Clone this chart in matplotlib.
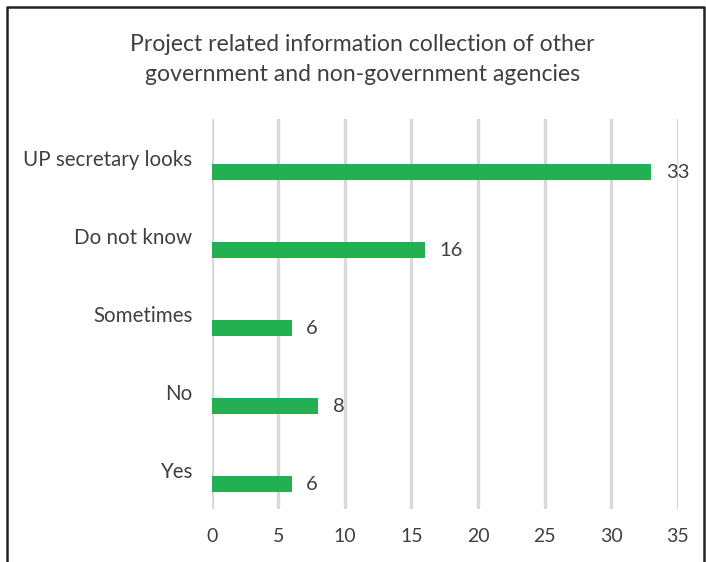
import matplotlib
matplotlib.use("Agg")
import matplotlib.pyplot as plt
from matplotlib.lines import Line2D

categories = ["Yes", "No", "Sometimes", "Do not know", "UP secretary looks"]
values = [6, 8, 6, 16, 33]
xticks = [0, 5, 10, 15, 20, 25, 30, 35]
title = "Project related information collection of other\ngovernment and non-government agencies"

plt.rcParams['font.family'] = ['Lato', 'DejaVu Sans']
txt = '#404040'

fig = plt.figure(figsize=(7.06, 5.62), dpi=100)
ax = fig.add_axes([0.300, 0.0943, 0.660, 0.694])

ypos = list(range(len(categories)))
offset = 0.18
ax.barh([y - offset for y in ypos], values, height=0.2, color='#22b052', zorder=3)
for y, v in zip(ypos, values):
    ax.text(v + 1.1, y - offset, str(v), va='center', ha='left', fontsize=14.5, color=txt)

ax.set_xlim(0, 35)
ax.set_ylim(-0.5, len(categories) - 0.5)
ax.set_xticks(xticks)
ax.set_yticks(ypos)
ax.set_yticklabels(categories)
ax.tick_params(axis='x', length=0, labelsize=14, labelcolor=txt, pad=14)
ax.tick_params(axis='y', length=0, labelsize=14.8, labelcolor=txt, pad=14)
ax.grid(axis='x', color='#d9d9d9', linewidth=2.4, zorder=0)
ax.set_axisbelow(True)
for s in ax.spines.values():
    s.set_visible(False)

fig.text(0.513, 0.894, title, ha='center', va='center', fontsize=16.6,
         color=txt, linespacing=1.5)

# outer frame
fx0, fx1, fy1 = 6.5 / 706, 703.5 / 706, 1 - 6.5 / 562
fig.add_artist(Line2D([fx0, fx0, fx1, fx1], [-0.01, fy1, fy1, -0.01],
                      transform=fig.transFigure, color='#222222', linewidth=1.8))

fig.savefig('out.png', dpi=100)
